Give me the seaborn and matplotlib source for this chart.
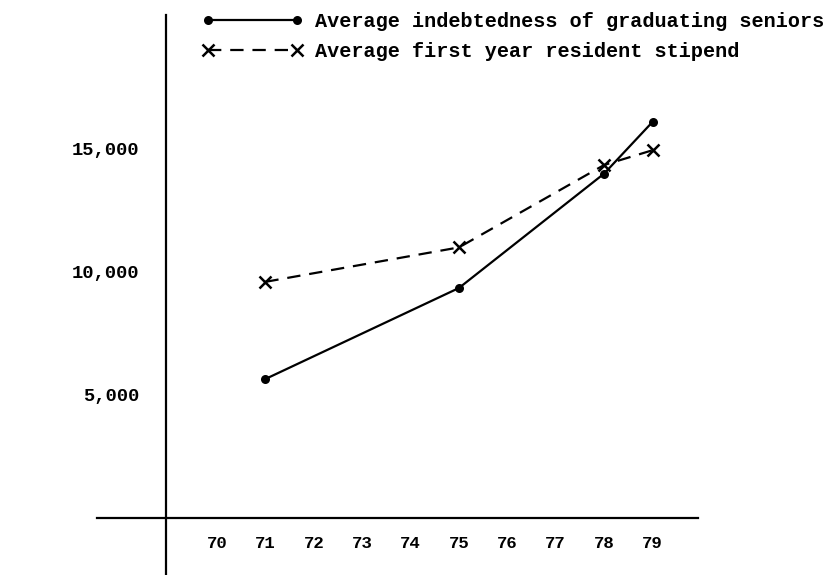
import pandas as pd
import matplotlib.pyplot as plt
import seaborn as sns

years = [71, 75, 78, 79]
indebtedness = [5650, 9350, 14000, 16100]
stipend = [9600, 11000, 14350, 14950]

label_debt = "Average indebtedness of graduating seniors"
label_stipend = "Average first year resident stipend"

x_ticks = list(range(70, 80))
y_ticks = [5000, 10000, 15000]
y_labels = ["5,000", "10,000", "15,000"]

df = pd.DataFrame({"year": years, "debt": indebtedness, "stipend": stipend})

sns.set_style("white")
plt.rcParams["font.family"] = ["Liberation Mono", "DejaVu Sans Mono"]
plt.rcParams["text.color"] = "black"

fig = plt.figure(figsize=(8.39, 5.75), dpi=100)
# axes box runs from the left end of the x axis line to its right end
ax = fig.add_axes([97 / 839, 0.0, 601 / 839, 560 / 575])

sns.lineplot(data=df, x="year", y="debt", ax=ax, color="black", lw=1.6,
             marker="o", markersize=6.5, markeredgewidth=0, label=label_debt)
sns.lineplot(data=df, x="year", y="stipend", ax=ax, color="black", lw=1.6,
             linestyle=(0, (6, 4)), marker="x", markersize=9,
             markeredgewidth=1.8, markeredgecolor="black", label=label_stipend)

ax.set_xlim(67.52, 79.94)
ax.set_ylim(-2317, 20447)

ax.spines["top"].set_visible(False)
ax.spines["right"].set_visible(False)
ax.spines["left"].set_position(("data", 68.94))
ax.spines["bottom"].set_position(("data", 0))
for s in ["left", "bottom"]:
    ax.spines[s].set_color("black")
    ax.spines[s].set_linewidth(1.6)

ax.set_xticks(x_ticks)
ax.set_xticklabels([str(t) for t in x_ticks], fontsize=12.5, fontweight="bold")
ax.set_yticks(y_ticks)
ax.set_yticklabels(y_labels, fontsize=13.5, fontweight="bold")
ax.tick_params(axis="x", direction="out", length=7, width=1.3, pad=6, colors="black")
ax.tick_params(axis="y", length=0, pad=19, colors="black")
ax.set_xlabel("")
ax.set_ylabel("")

leg = ax.legend(loc="upper left", bbox_to_anchor=(190 / 839, 1.0),
                bbox_transform=fig.transFigure, frameon=False, numpoints=2,
                handlelength=5.0, handletextpad=0.6, labelspacing=0.55,
                borderaxespad=0.2, prop={"size": 14.5, "weight": "bold"})
for t in leg.get_texts():
    t.set_color("black")

fig.savefig("out.png", dpi=100)
